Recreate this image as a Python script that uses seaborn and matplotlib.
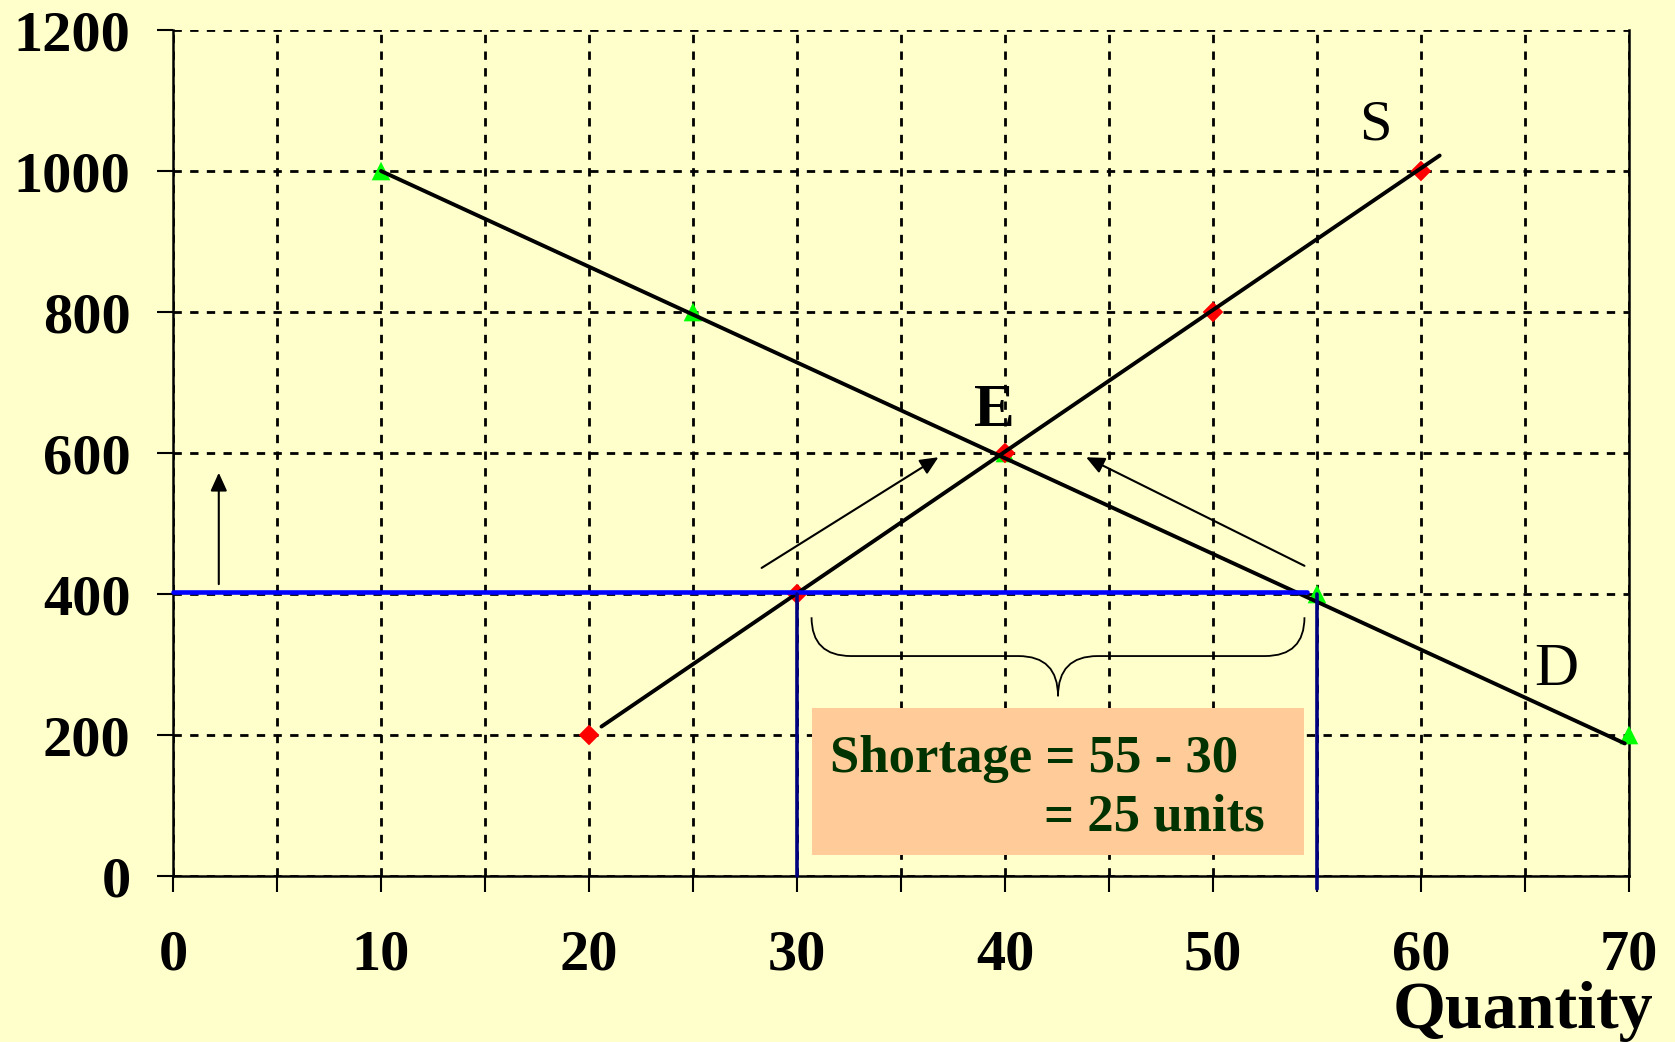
import matplotlib
matplotlib.use("Agg")
import matplotlib.pyplot as plt
from matplotlib.path import Path
from matplotlib.patches import PathPatch, Rectangle
import seaborn as sns

# market points
supply_q = [20, 30, 40, 50, 60]
supply_p = [200, 400, 600, 800, 1000]
demand_q = [10, 25, 40, 55, 70]
demand_p = [1000, 800, 600, 400, 200]

# ends of the drawn S and D lines
supply_line_q = [20.6, 60.9]
supply_line_p = [212, 1022]
demand_line_q = [10, 69.8]
demand_line_p = [1000, 188]

# price ceiling and the two quantities
ceiling_q = [0, 54.5]
ceiling_p = [403, 403]
qs_line_q = [30, 30]
qs_line_p = [400, 0]
qd_line_q = [55, 55]
qd_line_p = [400, -18]

x_ticks = list(range(0, 75, 5))
x_labels = [str(t) if t % 10 == 0 else "" for t in x_ticks]
y_ticks = list(range(0, 1400, 200))

bg = "#FFFFCC"
sns.set_style("white", {"axes.facecolor": bg, "figure.facecolor": bg})
plt.rcParams["font.family"] = ["Liberation Serif", "DejaVu Serif"]
plt.rcParams["text.color"] = "black"
plt.rcParams["xtick.color"] = "black"
plt.rcParams["ytick.color"] = "black"

fig = plt.figure(figsize=(16.75, 10.42), dpi=100)
ax = fig.add_axes([0.1033, 0.1593, 0.8692, 0.8119])
ax.set_facecolor(bg)

# points
sns.scatterplot(x=demand_q, y=demand_p, marker="^", s=180, color="#00FF00",
                edgecolor="none", ax=ax, zorder=3, clip_on=False)
sns.scatterplot(x=supply_q, y=supply_p, marker="D", s=110, color="#FF0000",
                edgecolor="none", ax=ax, zorder=3, clip_on=False)

# curves
sns.lineplot(x=supply_line_q, y=supply_line_p, color="black", lw=2.8,
             estimator=None, sort=False, ax=ax, zorder=5)
sns.lineplot(x=demand_line_q, y=demand_line_p, color="black", lw=2.8,
             estimator=None, sort=False, ax=ax, zorder=5)

# ceiling and quantities
sns.lineplot(x=ceiling_q, y=ceiling_p, color="#0000FF", lw=3.3,
             estimator=None, sort=False, ax=ax, zorder=6)
for xs, ys in [(qs_line_q, qs_line_p), (qd_line_q, qd_line_p)]:
    sns.lineplot(x=xs, y=ys, color="#000080", lw=2.6,
                 estimator=None, sort=False, ax=ax, zorder=6)
for line in ax.lines:
    line.set_clip_on(False)

# arrows
arrow = dict(arrowstyle="-|>,head_length=0.55,head_width=0.25", color="black",
             lw=1.5, shrinkA=0, shrinkB=0, mutation_scale=20)
ax.annotate("", xy=(2.2, 572), xytext=(2.2, 414), arrowprops=arrow, zorder=7)
ax.annotate("", xy=(36.8, 594), xytext=(28.3, 437), arrowprops=arrow, zorder=7)
ax.annotate("", xy=(43.9, 594), xytext=(54.4, 440), arrowprops=arrow, zorder=7)

# brace
q0, q1 = 30.7, 54.4
qm = (q0 + q1) / 2
top, mid, tip, r = 367, 312, 255, 1.9
verts = [(q0, top), (q0, mid), (q0 + r, mid),
         (qm - r, mid), (qm, mid), (qm, tip),
         (qm, mid), (qm + r, mid),
         (q1 - r, mid), (q1, mid), (q1, top)]
codes = [Path.MOVETO, Path.CURVE3, Path.CURVE3,
         Path.LINETO, Path.CURVE3, Path.CURVE3,
         Path.CURVE3, Path.CURVE3,
         Path.LINETO, Path.CURVE3, Path.CURVE3]
ax.add_patch(PathPatch(Path(verts, codes), fill=False, lw=1.3,
                       edgecolor="black", zorder=7))

# shortage box
ax.add_patch(Rectangle((30.7, 30), 23.7, 208, facecolor="#FFCC99",
                       edgecolor="none", zorder=4))
ax.text(31.6, 148, "Shortage = 55 - 30", fontsize=38, fontweight="bold",
        color="#003300", va="baseline", ha="left", zorder=8)
ax.text(41.9, 64, "= 25 units", fontsize=38, fontweight="bold",
        color="#003300", va="baseline", ha="left", zorder=8)

# labels
ax.text(39.5, 659, "E", fontsize=44, fontweight="bold", ha="center",
        va="center", zorder=8)
ax.text(57.8, 1064, "S", fontsize=42, ha="center", va="center", zorder=8)
ax.text(66.5, 292, "D", fontsize=44, ha="center", va="center", zorder=8)
fig.text(0.987, 0.0135, "Quantity", fontsize=49, fontweight="bold",
         ha="right", va="baseline")

ax.set_xlim(0, 70)
ax.set_ylim(0, 1200)
ax.set_xticks(x_ticks)
ax.set_xticklabels(x_labels)
ax.set_yticks(y_ticks)
ax.tick_params(axis="both", direction="out", length=11.5, width=1.5,
               color="black", labelcolor="black", labelsize=42,
               bottom=True, left=True)
ax.tick_params(axis="x", pad=27)
ax.tick_params(axis="y", pad=19)
for lab in ax.get_xticklabels() + ax.get_yticklabels():
    lab.set_fontweight("bold")

ax.grid(True, color="black", lw=2, ls=(0, (3, 3)), zorder=1)
ax.set_axisbelow(True)
for side in ["left", "bottom", "right"]:
    ax.spines[side].set_visible(True)
    ax.spines[side].set_color("black")
    ax.spines[side].set_linewidth(1.8)
ax.spines["top"].set_visible(False)
ax.set_xlabel("")
ax.set_ylabel("")

fig.savefig("out.png", dpi=100, facecolor=bg)
